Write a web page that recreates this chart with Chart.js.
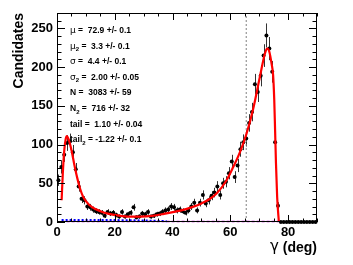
<!DOCTYPE html>
<html>
<head>
<meta charset="utf-8">
<script src="https://cdn.jsdelivr.net/npm/chart.js@4.4.1/dist/chart.umd.min.js"></script>
<style>
  html, body { margin: 0; padding: 0; background: #fff; }
  canvas { display: block; }
</style>
</head>
<body>
<canvas id="c" width="353" height="265"></canvas>
<script>
// histogram: 1 deg bins from 0 to 90
const binStart = 0;
const binWidth = 1;
const counts = [
  54, 71, 87, 102, 104, 90, 68, 46, 30, 28,
  20, 19, 16, 14, 13, 12, 8, 13, 11, 12,
  9, 7, 13, 7, 10, 12, 19, 6, 7, 11,
  10, 13, 7, 8, 10, 11, 13, 15, 16, 20,
  19, 15, 16, 14, 12, 15, 20, 25, 15, 25,
  35, 24, 28, 34, 38, 46, 35, 50, 52, 63,
  78, 58, 73, 94, 103, 108, 128, 142, 178, 168,
  189, 215, 241, 224, 194, 103, 21, 0, 0, 0,
  0, 0, 0, 0, 0, 0, 0, 0, 0, 0
];

// total fit (red)
const fitX = [1.6, 2.0, 2.5, 3.0, 3.4, 4.0, 5.0, 6.0, 7.0, 8.0, 9.0, 10, 12, 15, 18, 21, 25, 29, 33, 37, 41, 44, 47, 50, 53, 55.3, 58.7, 61, 63.3, 65.6, 67.9, 70.2, 72, 72.8, 73.5, 74.3, 74.8, 75.2, 75.5, 75.8, 76.2, 76.8];
const fitY = [28, 62, 92, 107, 111, 107, 93, 74, 57, 43, 33, 27, 19.5, 14, 10.5, 8.5, 7, 7, 8, 10.5, 13.5, 16, 19.5, 24, 30, 37, 54, 71, 90, 114, 146, 187, 218, 224, 220, 204, 190, 158, 118, 76, 33, 0];

// background components
const bkgAX = [1.6, 10, 20, 30, 38];
const bkgAY = [2.5, 2.5, 2.5, 2, 1];
const bkgBX = [1.6, 76.8];
const bkgBY = [0.5, 0.5];

const cutX = 65.5;

const statLines = [
  [["μ", "sym"], [" =  72.9 +/- 0.1", "b"]],
  [["μ", "sym"], ["2", "sub"], [" =  3.3 +/- 0.1", "b"]],
  [["σ", "sym"], [" =  4.4 +/- 0.1", "b"]],
  [["σ", "sym"], ["2", "sub"], [" =  2.00 +/- 0.05", "b"]],
  [["N =  3083 +/- 59", "b"]],
  [["N", "b"], ["2", "sub"], [" =  716 +/- 32", "b"]],
  [["tail =  1.10 +/- 0.04", "b"]],
  [["tail", "b"], ["2", "sub"], [" = -1.22 +/- 0.1", "b"]]
];

const FONT = "'Liberation Sans', Arial, Helvetica, sans-serif";

const histPts = counts.map((v, i) => ({x: binStart + (i + 0.5) * binWidth, y: v}));
const toPts = (xs, ys) => xs.map((x, i) => ({x: x, y: ys[i]}));

const decor = {
  id: "decor",
  beforeDatasetsDraw(chart) {
    const ctx = chart.ctx, xs = chart.scales.x, ys = chart.scales.y;
    ctx.save();
    ctx.strokeStyle = "#333";
    ctx.lineWidth = 1;
    histPts.forEach(p => {
      if (p.y <= 0) return;
      const e = Math.sqrt(p.y);
      const px = Math.round(xs.getPixelForValue(p.x)) + 0.5;
      ctx.beginPath();
      ctx.moveTo(px, ys.getPixelForValue(p.y - e));
      ctx.lineTo(px, ys.getPixelForValue(p.y + e));
      ctx.stroke();
    });
    ctx.restore();
  },
  afterDraw(chart) {
    const ctx = chart.ctx, xs = chart.scales.x, ys = chart.scales.y;
    const a = chart.chartArea;
    ctx.save();
    ctx.strokeStyle = "#000";
    ctx.lineWidth = 1;
    ctx.strokeRect(a.left + 0.5, a.top + 0.5, a.right - a.left - 1, a.bottom - a.top - 1);
    ctx.beginPath();
    for (let v = 0; v <= 270; v += 10) {
      const py = Math.round(ys.getPixelForValue(v)) + 0.5;
      const len = v % 50 === 0 ? 8 : 4.5;
      ctx.moveTo(a.left, py); ctx.lineTo(a.left + len, py);
      ctx.moveTo(a.right, py); ctx.lineTo(a.right - len, py);
    }
    for (let v = 0; v <= 90; v += 5) {
      const px = Math.round(xs.getPixelForValue(v)) + 0.5;
      const len = v % 20 === 0 ? 7 : 3.5;
      ctx.moveTo(px, a.bottom); ctx.lineTo(px, a.bottom - len);
      ctx.moveTo(px, a.top); ctx.lineTo(px, a.top + len);
    }
    ctx.stroke();

    // axis titles
    ctx.fillStyle = "#000";
    ctx.font = "bold 14px " + FONT;
    ctx.textAlign = "right";
    ctx.textBaseline = "alphabetic";
    const degW = ctx.measureText(" (deg)").width;
    ctx.fillText(" (deg)", a.right, 252);
    ctx.font = "15px 'DejaVu Sans'";
    ctx.fillText("γ", a.right - degW, 251);

    ctx.save();
    ctx.translate(23, 13);
    ctx.rotate(-Math.PI / 2);
    ctx.font = "bold 14px " + FONT;
    ctx.textAlign = "right";
    ctx.fillText("Candidates", 0, 0);
    ctx.restore();

    // fit results
    ctx.textAlign = "left";
    statLines.forEach((line, i) => {
      let x = 70;
      const y = 33 + i * 15.6;
      line.forEach(([txt, kind]) => {
        let dy = 0;
        if (kind === "sym") ctx.font = "9px 'DejaVu Sans'";
        else if (kind === "sub") { ctx.font = "bold 6px " + FONT; dy = 2.5; }
        else ctx.font = "bold 8.5px " + FONT;
        ctx.fillText(txt, x, y + dy);
        x += ctx.measureText(txt).width;
      });
    });
    ctx.restore();
  }
};

new Chart(document.getElementById("c"), {
  type: "scatter",
  data: {
    datasets: [
      {type: "line", data: toPts(fitX, fitY), borderColor: "#ff0000", borderWidth: 2.2, pointRadius: 0, cubicInterpolationMode: "monotone", fill: false, order: 0},
      {data: histPts, backgroundColor: "#000", borderColor: "#000", pointRadius: 2, pointBorderWidth: 0, order: 1},
      {type: "line", data: toPts(bkgAX, bkgAY), borderColor: "#0000ff", borderWidth: 2, borderDash: [2, 2], pointRadius: 0, fill: false, order: 2},
      {type: "line", data: toPts(bkgBX, bkgBY), borderColor: "#c000d8", borderWidth: 1.5, borderDash: [3, 2], pointRadius: 0, fill: false, order: 3},
      {type: "line", data: [{x: cutX, y: 0}, {x: cutX, y: 270}], borderColor: "#808080", borderWidth: 1, borderDash: [2, 2], pointRadius: 0, fill: false, order: 4}
    ]
  },
  options: {
    responsive: false,
    animation: false,
    devicePixelRatio: 1,
    clip: false,
    layout: {padding: {left: 0, right: 36, top: 13, bottom: 0}},
    plugins: {legend: {display: false}, tooltip: {enabled: false}},
    scales: {
      x: {
        type: "linear", min: 0, max: 90,
        grid: {display: false, drawTicks: false}, border: {display: false},
        ticks: {stepSize: 20, includeBounds: false, padding: 3, color: "#000", font: {family: FONT, size: 13, weight: "bold"}, maxRotation: 0},
        afterFit: s => { s.height = 43; }
      },
      y: {
        min: 0, max: 270,
        grid: {display: false, drawTicks: false}, border: {display: false},
        ticks: {stepSize: 50, includeBounds: false, padding: 4, color: "#000", font: {family: FONT, size: 13, weight: "bold"}},
        afterFit: s => { s.width = 57; }
      }
    }
  },
  plugins: [decor]
});
</script>
</body>
</html>
